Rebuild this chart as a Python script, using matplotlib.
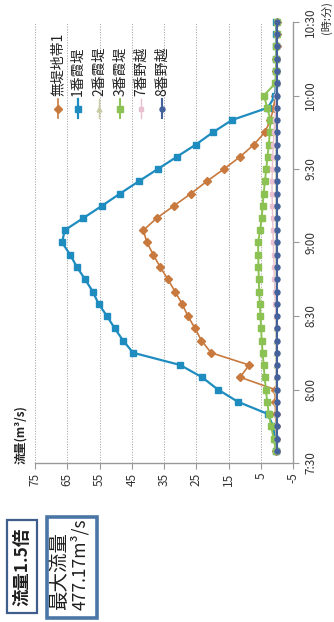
import matplotlib
matplotlib.use("Agg")
import matplotlib.pyplot as plt
from matplotlib.lines import Line2D
from matplotlib.patches import Rectangle

plt.rcParams['font.family'] = ['Noto Sans CJK JP', 'DejaVu Sans']

# ---- data -------------------------------------------------------------
times = ["7:35", "7:40", "7:45", "7:50", "7:55", "8:00", "8:05", "8:10", "8:15",
         "8:20", "8:25", "8:30", "8:35", "8:40", "8:45", "8:50", "8:55", "9:00",
         "9:05", "9:10", "9:15", "9:20", "9:25", "9:30", "9:35", "9:40", "9:45",
         "9:50", "9:55", "10:00", "10:05", "10:10", "10:15", "10:20", "10:25", "10:30"]

mutei1 = [0.2, 0.2, 0.3, 0.4, 0.5, 0.6, 11.4, 8.6, 20.4, 23.4, 25.4, 27.6,
          29.4, 31.6, 33.8, 36.2, 38.3, 40.3, 41.4, 37.2, 31.9, 26.6, 21.7, 16.4,
          11.4, 7.1, 3.7, 2.0, 1.0, 0.5, 0.3, 0.2, 0.2, 0.1, 0.1, 0.1]
kasumi1 = [0.3, 0.6, 1.2, 2.8, 12.1, 18.3, 23.2, 30.0, 44.6, 47.7, 50.3, 52.7,
           55.3, 57.1, 59.5, 62.0, 64.1, 66.6, 65.8, 60.0, 54.2, 48.6, 42.8, 36.9,
           31.0, 25.1, 19.8, 13.9, 2.8, 0.5, 0.3, 0.2, 0.2, 0.2, 0.2, 0.2]
kasumi2 = [0.1, 0.1, 0.2, 0.2, 0.2, 0.3, 0.3, 0.3, 0.3, 0.3, 0.3, 0.3,
           0.3, 0.3, 0.3, 0.3, 0.3, 0.3, 0.3, 0.3, 0.3, 0.3, 0.3, 0.3,
           0.3, 0.3, 0.3, 0.3, 0.2, 0.2, 0.1, 0.1, 0.1, 0.1, 0.1, 0.1]
kasumi3 = [0.3, 1.0, 1.8, 2.5, 3.0, 3.4, 3.8, 4.1, 4.4, 4.7, 4.9, 5.1,
           5.3, 5.5, 5.6, 5.7, 5.8, 5.8, 5.2, 4.7, 4.4, 4.1, 3.7, 3.3,
           2.9, 2.5, 2.2, 2.0, 3.0, 4.0, 0.5, 0.3, 0.2, 0.2, 0.1, 0.1]
nokoshi7 = [0.1, 0.1, 0.1, 0.1, 0.1, 0.1, 0.1, 0.1, 0.1, 0.1, 0.1, 0.3,
            0.5, 0.6, 0.8, 0.9, 1.0, 1.1, 1.2, 1.3, 1.4, 1.5, 1.5, 1.4,
            1.3, 1.1, 0.9, 0.6, 0.4, 0.2, 0.1, 0.1, 0.1, 0.1, 0.1, 0.1]
nokoshi8 = [0.0, 0.0, 0.0, 0.0, 0.0, 0.0, 0.0, 0.0, 0.0, 0.0, 0.0, 0.0,
            0.0, 0.0, 0.0, 0.0, 0.0, 0.0, 0.0, 0.0, 0.0, 0.0, 0.0, 0.0,
            0.0, 0.0, 0.0, 0.0, 0.0, 0.0, 0.0, 0.0, 0.0, 0.0, 0.0, 0.0]

series_names = ["無堤地帯1", "1番霞堤", "2番霞堤", "3番霞堤", "7番野越", "8番野越"]
flow_ticks = [75, 65, 55, 45, 35, 25, 15, 5, -5]
time_ticks = ["7:30", "8:00", "8:30", "9:00", "9:30", "10:00", "10:30"]


def minutes(label):
    h, m = label.split(":")
    return (int(h) - 7) * 60 + int(m) - 30


# ---- styling ----------------------------------------------------------
styles = [
    dict(color="#c87a3e", marker="D", ms=3.6, lw=1.2),
    dict(color="#1f8cc0", marker="s", ms=5.0, lw=1.6),
    dict(color="#c9cba6", marker="^", ms=3.5, lw=1.0),
    dict(color="#8cc254", marker="s", ms=5.0, lw=1.4),
    dict(color="#e8c0cf", marker="s", ms=3.5, lw=1.0),
    dict(color="#43619b", marker="o", ms=3.6, lw=1.5),
]
series = [mutei1, kasumi1, kasumi2, kasumi3, nokoshi7, nokoshi8]

W, H = 334, 622


def fx(px):
    return px / W


def fy(py):
    return 1 - py / H


fig = plt.figure(figsize=(W / 100, H / 100), dpi=100)
fig.patch.set_facecolor("white")

# plot area: flow runs across (75 at left, -5 at right), time runs upward
ax = fig.add_axes([fx(35), fy(463), (293 - 35) / W, (463 - 22) / H])
t = [minutes(s) for s in times]
for vals, st in zip(series, styles):
    ax.plot(vals, t, color=st["color"], lw=st["lw"], marker=st["marker"],
            ms=st["ms"], mec=st["color"], mfc=st["color"], clip_on=False)

ax.set_xlim(75, -5)
ax.set_ylim(0, 180)
ax.set_xticks(flow_ticks)
ax.set_xticklabels([str(v) for v in flow_ticks], rotation=90, fontsize=8.5,
                   color="#333333")
ax.set_yticks([minutes(s) for s in time_ticks])
ax.set_yticklabels(time_ticks, rotation=90, fontsize=8.5, color="#333333",
                   va="center")
ax.yaxis.tick_right()
ax.tick_params(axis="x", length=4, width=0.8, color="#999999", pad=3)
ax.tick_params(axis="y", length=4, width=0.8, color="#999999", pad=4)

ax.grid(axis="x", linestyle=(0, (1.2, 1.5)), color="#a8a8a8", lw=0.7)
ax.set_axisbelow(True)
for side in ("left", "top"):
    ax.spines[side].set_visible(False)
for side in ("right", "bottom"):
    ax.spines[side].set_color("#9a9a9a")
    ax.spines[side].set_linewidth(1.0)

# axis titles
fig.text(fx(21), fy(464), "流量(m³/s)", rotation=90, ha="center", va="bottom",
         fontsize=8.5, fontweight="bold", color="#222222")
fig.text(fx(326), fy(1), "(時:分)", rotation=90, ha="center", va="top",
         fontsize=8, color="#333333")

# legend, one column per series
legend_x = [58, 78, 99, 120, 141, 162]
for name, st, cx in zip(series_names, styles, legend_x):
    fig.add_artist(Line2D([fx(cx), fx(cx)], [fy(118), fy(99)],
                          transform=fig.transFigure, color=st["color"],
                          lw=st["lw"]))
    fig.add_artist(Line2D([fx(cx)], [fy(108.5)], transform=fig.transFigure,
                          color=st["color"], marker=st["marker"], ms=st["ms"],
                          mec=st["color"], mfc=st["color"], lw=0))
    fig.text(fx(cx), fy(96), name, rotation=90, ha="center", va="bottom",
             fontsize=10, color="#222222")

# annotation boxes
fig.add_artist(Rectangle((fx(7), fy(613)), 30 / W, 93 / H,
                         transform=fig.transFigure, fill=False,
                         edgecolor="#3e5f8e", lw=1.6))
fig.text(fx(22), fy(567), "流量1.5倍", rotation=90, ha="center", va="center",
         fontsize=12.5, fontweight="bold", color="#1e1e1e")

fig.add_artist(Rectangle((fx(47), fy(618)), 50 / W, 101 / H,
                         transform=fig.transFigure, fill=False,
                         edgecolor="#4a76a6", lw=2.6))
fig.text(fx(60), fy(610), "最大流量", rotation=90, ha="center", va="bottom",
         fontsize=14, color="#1e1e1e")
fig.text(fx(80), fy(610), "477.17m³/s", rotation=90, ha="center", va="bottom",
         fontsize=12.5, color="#1e1e1e")

fig.savefig("out.png", dpi=100)
